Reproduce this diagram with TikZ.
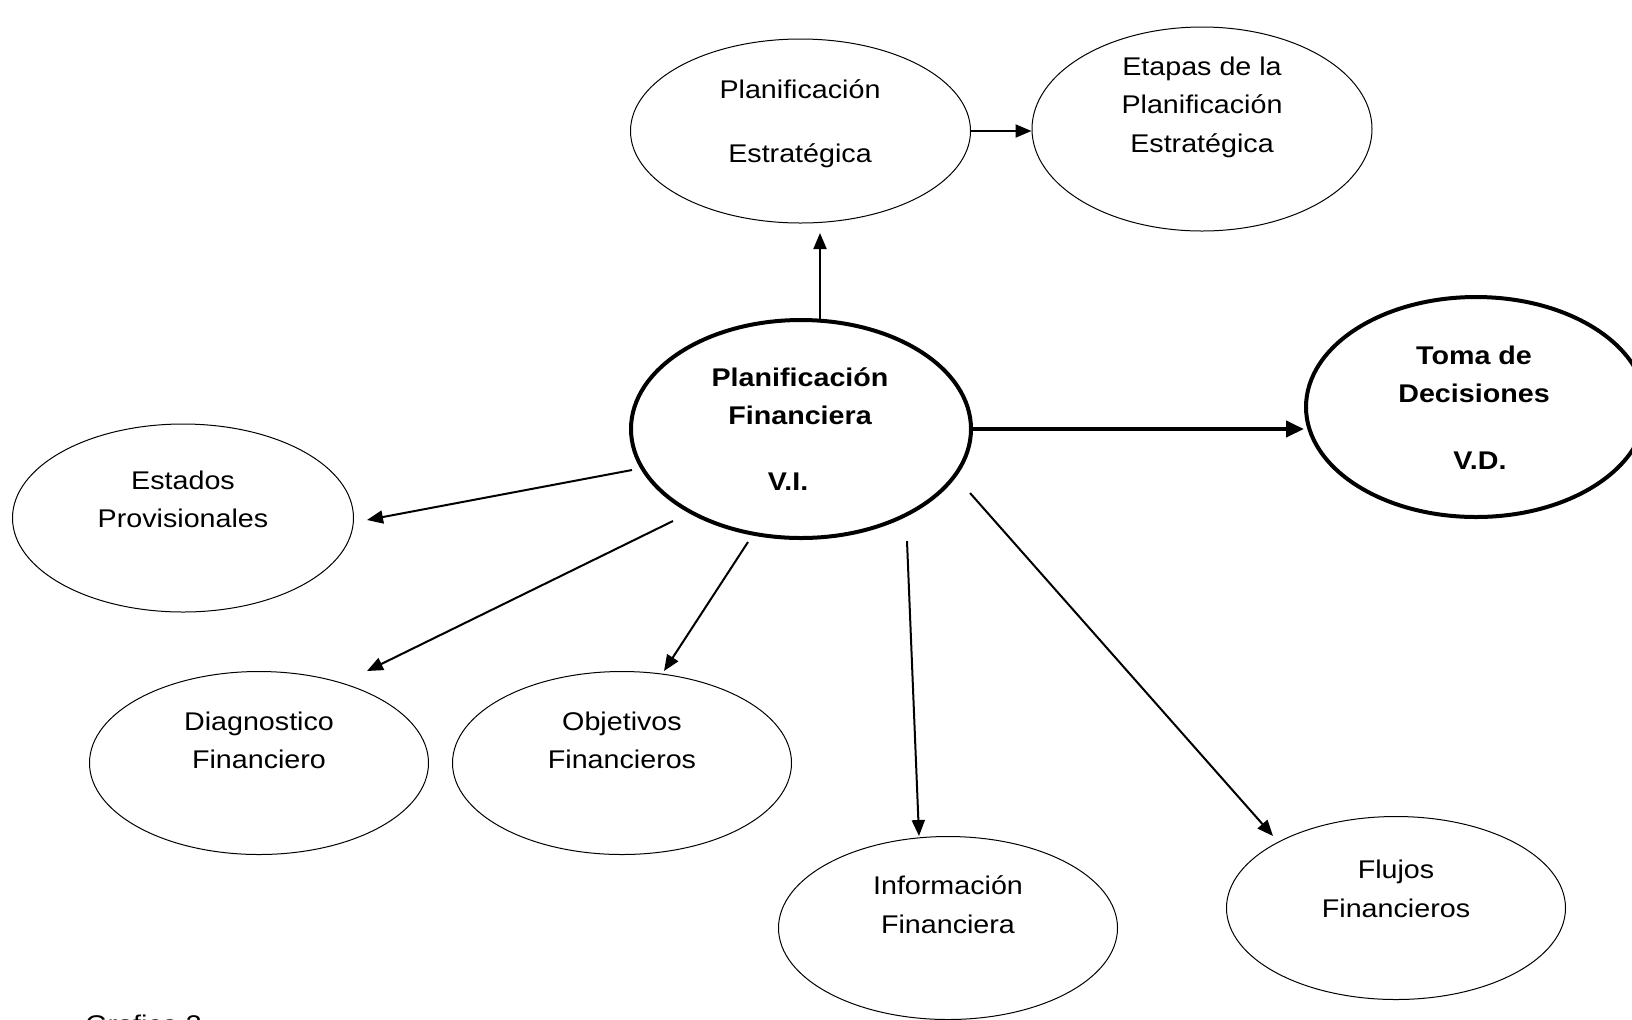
\documentclass[tikz,border=0pt]{standalone}
\usepackage{fontspec}
\setmainfont{Liberation Sans}[FakeStretch=1.12]
\usetikzlibrary{shapes.geometric,arrows.meta}
\begin{document}
\begin{tikzpicture}[x=0.5pt,y=-0.5pt,
  oval/.style={ellipse,draw,line width=0.5pt,inner sep=0pt},
  ovalthick/.style={ellipse,draw,line width=2pt,inner sep=0pt},
  txt/.style={align=center,inner sep=0pt,font=\fontsize{12.8}{19.25}\selectfont,
    execute at begin node=\strut,execute at end node=\strut},
  btxt/.style={txt,font=\fontsize{12.8}{19.25}\selectfont\bfseries},
  arr/.style={line width=1pt,-{Triangle[length=8pt,width=6.5pt]}},
  thickarr/.style={line width=2pt,-{Triangle[length=9pt,width=8pt]}}]
\useasboundingbox[fill=white] (0,0) rectangle (1632,1019);
% ellipses
\node[oval,minimum width=170pt,minimum height=92pt] (pe) at (800.5,131) {};
\node[oval,minimum width=170pt,minimum height=102pt] (et) at (1202,129) {};
\node[ovalthick,minimum width=170pt,minimum height=109pt] (c) at (801,429) {};
\node[ovalthick,minimum width=170pt,minimum height=110pt] (to) at (1476,407) {};
\node[oval,minimum width=170.5pt,minimum height=94pt] (es) at (183,518) {};
\node[oval,minimum width=169.5pt,minimum height=91.5pt] (di) at (259,763) {};
\node[oval,minimum width=169.5pt,minimum height=91.5pt] (ob) at (622,763) {};
\node[oval,minimum width=169.5pt,minimum height=91.5pt] (in) at (948,928) {};
\node[oval,minimum width=169.5pt,minimum height=91.5pt] (fl) at (1396,908) {};
% texts
\node[txt] (peT) at (800,127) {Planificación\\[12.5pt]Estratégica};
\node[txt] (etT) at (1202,110) {Etapas de la\\Planificación\\Estratégica};
\node[btxt] (cT) at (800,434.5) {Planificación\\Financiera\\[13.5pt]V.I.\hspace*{12pt}};
\node[btxt] (toT) at (1474,413) {Toma de\\Decisiones\\[14pt]\hspace*{6pt}V.D.};
\node[txt] (esT) at (183,505) {Estados\\Provisionales};
\node[txt] (diT) at (259,746) {Diagnostico\\Financiero};
\node[txt] (obT) at (622,746) {Objetivos\\Financieros};
\node[txt] (inT) at (948,910.5) {Información\\Financiera};
\node[txt] (flT) at (1396,894.5) {Flujos\\Financieros};
\node[anchor=base west,inner sep=0pt,font=\fontsize{12.8}{15}\selectfont] (gr) at (85,1033) {Grafico 3};
% connector end points
\coordinate (s1) at (820,320);  \coordinate (e1) at (820,233);
\coordinate (s4) at (632,470);  \coordinate (e4) at (367,520);
\coordinate (s5) at (673,521);  \coordinate (e5) at (367,671);
\coordinate (s6) at (748,542);  \coordinate (e6) at (664,671);
\coordinate (s7) at (907,541);  \coordinate (e7) at (919,836);
\coordinate (s8) at (970,493);  \coordinate (e8) at (1273,836);
% connectors
\draw[arr] (s1) -- (e1);
\draw[arr] (pe.east) -- (pe.east -| et.west);
\draw[thickarr] (c.east) -- (c.east -| to.west);
\draw[arr] (s4) -- (e4);
\draw[arr] (s5) -- (e5);
\draw[arr] (s6) -- (e6);
\draw[arr] (s7) -- (e7);
\draw[arr] (s8) -- (e8);
\end{tikzpicture}
\end{document}
